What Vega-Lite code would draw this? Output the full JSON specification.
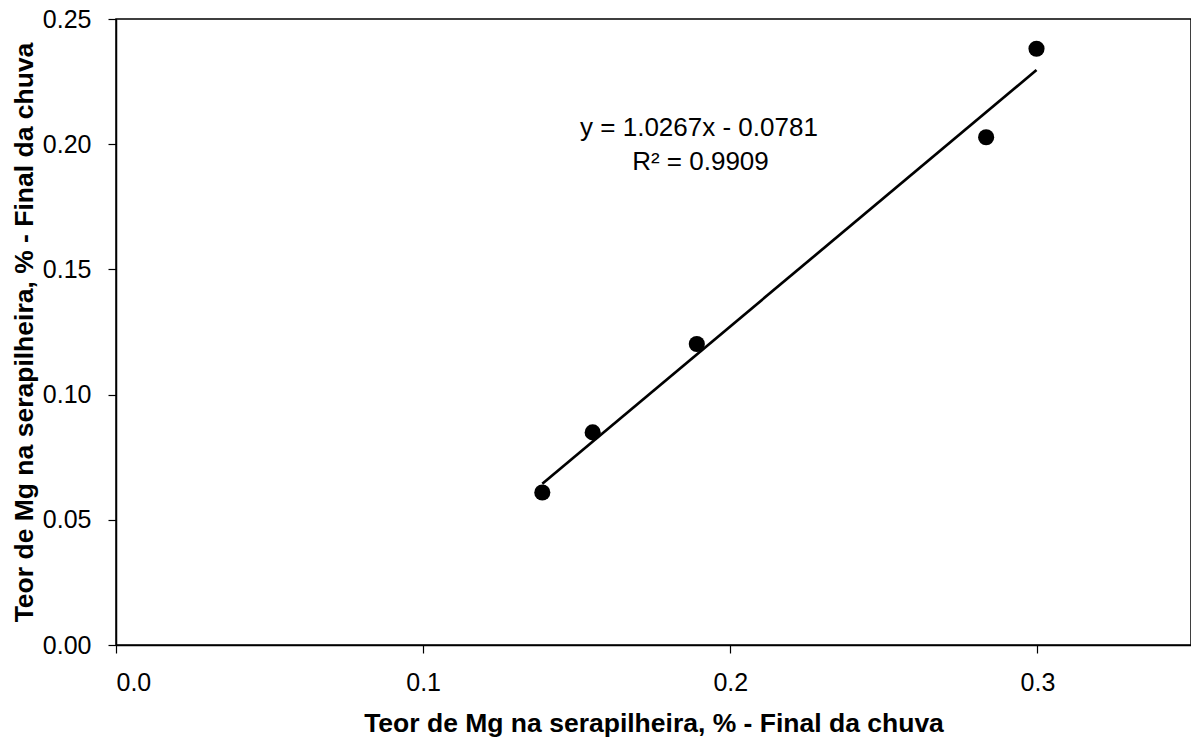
{
  "$schema": "https://vega.github.io/schema/vega-lite/v6.json",
  "width": 1075,
  "height": 626,
  "autosize": {"type": "none"},
  "padding": {"left": 116, "top": 19, "right": 0, "bottom": 94},
  "background": "white",
  "config": {
    "view": {"stroke": "black", "strokeWidth": 1.5},
    "font": "Liberation Sans",
    "axis": {"grid": false, "domainColor": "black", "tickColor": "black", "labelColor": "black", "titleColor": "black", "labelFontSize": 25, "titleFontSize": 26.5, "titleFontWeight": "bold", "tickSize": 8, "domainWidth": 1.5, "tickWidth": 1.2, "labelFont": "Liberation Sans", "titleFont": "Liberation Sans"}
  },
  "datasets": {
    "pts": [
      {"x": 0.1388, "y": 0.0609},
      {"x": 0.1552, "y": 0.0849},
      {"x": 0.1891, "y": 0.1202},
      {"x": 0.2833, "y": 0.2028},
      {"x": 0.2997, "y": 0.2381}
    ],
    "fit": [
      {"x": 0.1388, "y": 0.0644},
      {"x": 0.2997, "y": 0.2296}
    ],
    "labels": [
      {"x": 0.1898, "y": 0.2063, "t": "y = 1.0267x - 0.0781"},
      {"x": 0.1903, "y": 0.1929, "t": "R² = 0.9909"}
    ]
  },
  "layer": [
    {
      "data": {"name": "fit"},
      "mark": {"type": "line", "color": "black", "strokeWidth": 2.7},
      "encoding": {
        "x": {"field": "x", "type": "quantitative", "scale": {"domain": [0, 0.35], "nice": false, "zero": false},
          "axis": {"values": [0, 0.1, 0.2, 0.3], "format": ".1f", "labelPadding": 17, "titlePadding": 15, "title": "Teor de Mg na serapilheira, % - Final da chuva"}},
        "y": {"field": "y", "type": "quantitative", "scale": {"domain": [0, 0.25], "nice": false},
          "axis": {"values": [0, 0.05, 0.1, 0.15, 0.2, 0.25], "format": ".2f", "labelPadding": 17, "titlePadding": 4, "title": "Teor de Mg na serapilheira, % - Final da chuva"}}
      }
    },
    {
      "data": {"name": "pts"},
      "mark": {"type": "circle", "color": "black", "opacity": 1, "size": 260},
      "encoding": {
        "x": {"field": "x", "type": "quantitative"},
        "y": {"field": "y", "type": "quantitative"}
      }
    },
    {
      "data": {"name": "labels"},
      "mark": {"type": "text", "fontSize": 26, "color": "black", "align": "center", "baseline": "middle", "font": "Liberation Sans"},
      "encoding": {
        "x": {"field": "x", "type": "quantitative"},
        "y": {"field": "y", "type": "quantitative"},
        "text": {"field": "t"}
      }
    }
  ]
}
